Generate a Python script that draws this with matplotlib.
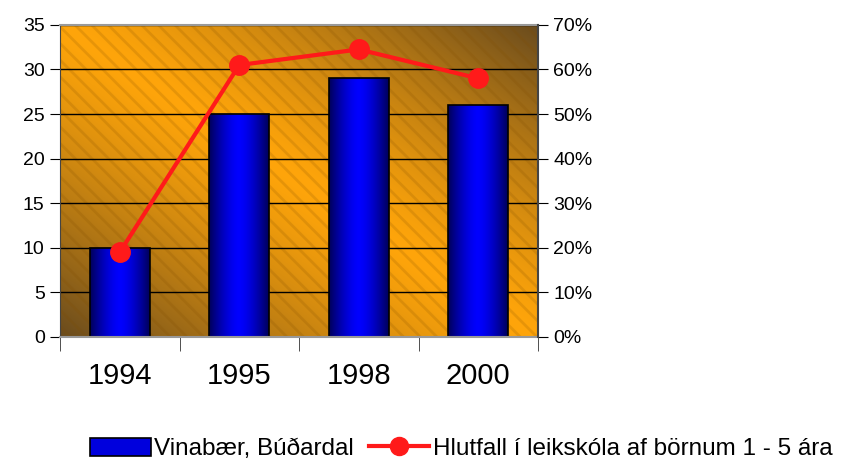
import numpy as np
import matplotlib
matplotlib.use("Agg")
import matplotlib.pyplot as plt
from matplotlib.patches import Rectangle
from matplotlib.lines import Line2D
from matplotlib.ticker import PercentFormatter

years = ["1994", "1995", "1998", "2000"]
children = [10, 25, 29, 26]
share_pct = [19, 61, 64.5, 58]

bar_label = "Vinabær, Búðardal"
line_label = "Hlutfall í leikskóla af börnum 1 - 5 ára"

plt.rcParams['font.family'] = ['Liberation Sans', 'DejaVu Sans']

fig = plt.figure(figsize=(8.43, 4.61), dpi=100)
ax = fig.add_axes([0.0712, 0.269, 0.567, 0.677])
ax2 = ax.twinx()

x = np.arange(len(years))

# orange background, darker towards bottom-left and top-right corners
gx, gy = np.meshgrid(np.linspace(0, 1, 300), np.linspace(1, 0, 200))
dark = np.clip(np.abs(gx + gy - 1.0), 0, 1) ** 1.3
orange = np.array([255, 165, 10]) / 255
brown = np.array([105, 75, 30]) / 255
bg = orange[None, None, :] * (1 - dark[..., None]) + brown[None, None, :] * dark[..., None]
ax.imshow(bg, extent=[0, 1, 0, 1], transform=ax.transAxes, aspect='auto', zorder=0)
plt.rcParams['hatch.linewidth'] = 2.0
ax.add_patch(Rectangle((0, 0), 1, 1, transform=ax.transAxes, facecolor='none',
                       edgecolor=(0.5, 0.3, 0.0, 0.18), hatch='\\\\', lw=0, zorder=0.2))

# bars with horizontal blue gradient
bars = ax.bar(x, children, width=0.5, color='none', edgecolor='black', linewidth=1.2, zorder=2)
grad = np.abs(np.linspace(-1, 1, 100)) ** 1.5
blue = np.array([0, 0, 255]) / 255
navy = np.array([0, 0, 90]) / 255
bar_img = blue[None, :] * (1 - grad[:, None]) + navy[None, :] * grad[:, None]
bar_img = bar_img[None, :, :]
for b in bars:
    im = ax.imshow(bar_img, extent=[b.get_x(), b.get_x() + b.get_width(), 0, b.get_height()],
                   aspect='auto', zorder=1.5)
    im.set_clip_path(b)

ax.set_xlim(-0.5, len(years) - 0.5)
ax.set_ylim(0, 35)
ax.set_yticks(range(0, 36, 5))
ax.grid(axis='y', color='black', linewidth=1.0, zorder=0.5)
ax.set_axisbelow(True)
ax.set_xticks(x)
ax.set_xticklabels(years, fontsize=21)
ax.tick_params(axis='x', length=0, pad=18)
ax.set_xticks(np.arange(-0.5, len(years), 1), minor=True)
ax.tick_params(axis='x', which='minor', length=10, direction='out', color='#333333')
ax.tick_params(axis='y', labelsize=14, length=7, color='black', pad=4)

for s in ['top', 'bottom']:
    ax.spines[s].set_color('#999999')
    ax.spines[s].set_linewidth(1.5)
ax.spines['left'].set_color('#444444')
ax.spines['right'].set_visible(False)
for s in ['top', 'bottom', 'left']:
    ax2.spines[s].set_visible(False)
ax2.spines['right'].set_color('#444444')
ax2.spines['right'].set_linewidth(1.5)

ax2.plot(x, share_pct, color='#FF1A1A', linewidth=3, marker='o', markersize=14,
         markerfacecolor='#FF1A1A', markeredgecolor='#FF1A1A', zorder=5, clip_on=False)
ax2.set_ylim(0, 70)
ax2.set_yticks(range(0, 71, 10))
ax2.yaxis.set_major_formatter(PercentFormatter(decimals=0))
ax2.tick_params(axis='y', labelsize=14, length=7, color='black', pad=4)

handles = [Rectangle((0, 0), 1, 1, facecolor='#0000DD', edgecolor='black', linewidth=1.2),
           Line2D([], [], color='#FF1A1A', linewidth=3, marker='o', markersize=13)]
fig.legend(handles, [bar_label, line_label], loc='lower right', bbox_to_anchor=(1.005, -0.03),
           ncol=2, frameon=False, fontsize=17.5, handlelength=2.5, handleheight=0.8,
           handletextpad=0.15, columnspacing=0.6, borderaxespad=0.2)

fig.savefig("out.png", dpi=100)
